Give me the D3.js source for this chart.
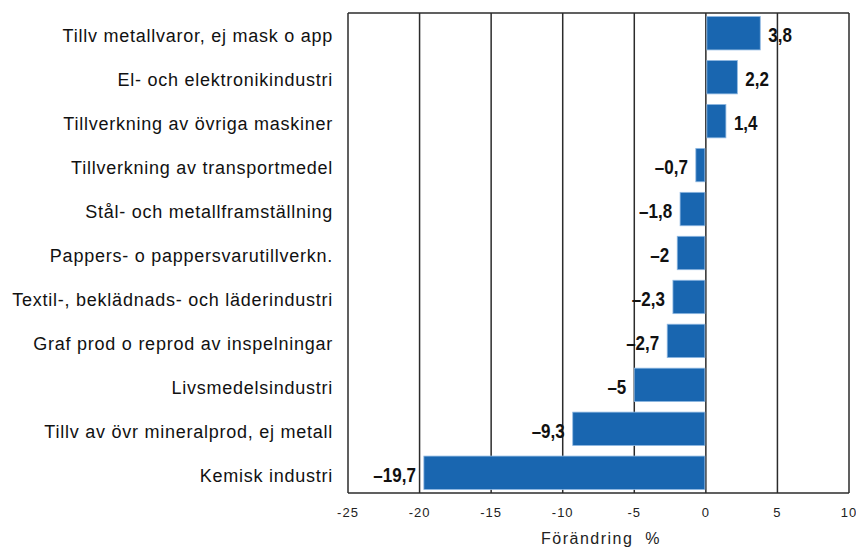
<!DOCTYPE html>
<html>
<head>
<meta charset="utf-8">
<script src="https://cdn.jsdelivr.net/npm/d3@7"></script>
<style>
  body { margin: 0; background: #fff; }
  text { font-family: "Liberation Sans", Arial, sans-serif; }
</style>
</head>
<body>
<div id="chart"></div>
<script>
// industries, top to bottom
var categories = [
  "Tillv metallvaror, ej mask o app",
  "El- och elektronikindustri",
  "Tillverkning av övriga maskiner",
  "Tillverkning av transportmedel",
  "Stål- och metallframställning",
  "Pappers- o pappersvarutillverkn.",
  "Textil-, beklädnads- och läderindustri",
  "Graf prod o reprod av inspelningar",
  "Livsmedelsindustri ",
  "Tillv av övr mineralprod, ej metall",
  "Kemisk industri"
];
var values = [3.8, 2.2, 1.4, -0.7, -1.8, -2, -2.3, -2.7, -5, -9.3, -19.7];
var xTicks = [-25, -20, -15, -10, -5, 0, 5, 10];

var width = 856, height = 549;
// plot area (note: "top" is reserved on window, so use own names)
var plotLeft = 348, plotRight = 849, plotTop = 13, plotBottom = 493;

var svg = d3.select("#chart").append("svg")
    .attr("width", width).attr("height", height);

var x = d3.scaleLinear().domain([-25, 10]).range([plotLeft, plotRight]);
var y = d3.scaleBand().domain(categories).range([plotTop, plotBottom])
    .paddingInner(0.24).paddingOuter(0.08);

// gridlines
svg.selectAll("line.grid").data(xTicks).enter().append("line")
    .attr("x1", d => x(d)).attr("x2", d => x(d))
    .attr("y1", plotTop).attr("y2", plotBottom)
    .attr("stroke", "#2b2b2b").attr("stroke-width", 1.5);

// top and bottom frame lines
svg.selectAll("line.frame").data([plotTop, plotBottom]).enter().append("line")
    .attr("x1", plotLeft).attr("x2", plotRight)
    .attr("y1", d => d).attr("y2", d => d)
    .attr("stroke", "#2b2b2b").attr("stroke-width", 1.5);

// bars
var data = categories.map((c, i) => ({name: c, value: values[i]}));
svg.selectAll("rect.bar").data(data).enter().append("rect")
    .attr("x", d => d.value < 0 ? x(d.value) : x(0) + 1)
    .attr("width", d => Math.abs(x(d.value) - x(0)) - 1)
    .attr("y", d => y(d.name))
    .attr("height", y.bandwidth())
    .attr("fill", "#1966b0")
    .attr("stroke", "#8fb8e2").attr("stroke-width", 0.8);

// value labels, bold and squeezed sideways like a narrow face
function fmt(v) { return String(v).replace(".", ",").replace("-", "\u2013"); }
svg.selectAll("text.val").data(data).enter().append("text")
    .attr("transform", d => {
        var tx = d.value < 0 ? x(d.value) - 8 : x(d.value) + 8;
        var ty = y(d.name) + y.bandwidth() / 2;
        return "translate(" + tx + "," + ty + ") scale(0.85,1)";
    })
    .attr("dy", "0.45em")
    .attr("text-anchor", d => d.value < 0 ? "end" : "start")
    .style("font-weight", "bold")
    .style("font-size", "20px")
    .attr("fill", "#111")
    .text(d => fmt(d.value));

// category labels
svg.selectAll("text.cat").data(categories).enter().append("text")
    .attr("x", 333)
    .attr("y", d => y(d) + y.bandwidth() / 2)
    .attr("dy", "0.5em")
    .attr("text-anchor", "end")
    .style("font-size", "18px")
    .style("letter-spacing", "0.75px")
    .attr("fill", "#111")
    .text(d => d);

// tick labels
svg.selectAll("text.tick").data(xTicks).enter().append("text")
    .attr("x", d => x(d))
    .attr("y", 516.5)
    .attr("text-anchor", "middle")
    .style("font-size", "13px")
    .style("letter-spacing", "1px")
    .attr("fill", "#222")
    .text(d => String(d));

// axis title (keep the double space)
svg.append("text")
    .attr("x", 601).attr("y", 544)
    .attr("text-anchor", "middle")
    .style("white-space", "pre")
    .style("font-size", "16px")
    .style("letter-spacing", "1.5px")
    .attr("fill", "#222")
    .text("Förändring  %");
</script>
</body>
</html>
